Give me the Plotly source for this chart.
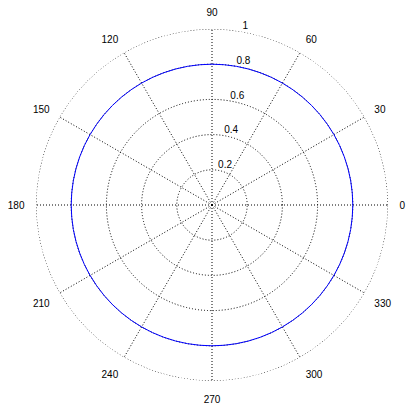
import plotly.graph_objects as go

# data
theta_deg = list(range(0, 361, 5))
r_vals = [0.8] * len(theta_deg)

radial_ticks = [0.2, 0.4, 0.6, 0.8, 1.0]
radial_labels = ["0.2", "0.4", "0.6", "0.8", "1"]
angular_ticks = list(range(0, 360, 30))
outer_ring = [1.0] * len(theta_deg)

FONT = "Liberation Sans"
DOTS = "1px,2px"

fig = go.Figure()

# outer dotted ring (plotly skips the grid circle at the edge of the range)
fig.add_trace(go.Scatterpolar(
    r=outer_ring,
    theta=theta_deg,
    mode="lines",
    line=dict(color="black", width=1, dash=DOTS),
    hoverinfo="skip",
    cliponaxis=False,
    showlegend=False
))

fig.add_trace(go.Scatterpolar(
    r=r_vals,
    theta=theta_deg,
    mode="lines",
    line=dict(color="#0000ff", width=1),
    hoverinfo="skip",
    showlegend=False
))

# radial labels next to the 80 degree spoke, like matlab
fig.add_trace(go.Scatterpolar(
    r=radial_ticks,
    theta=[80] * len(radial_ticks),
    mode="text",
    text=radial_labels,
    textposition="top right",
    textfont=dict(family=FONT, size=10, color="black"),
    cliponaxis=False,
    hoverinfo="skip",
    showlegend=False
))

# page body has an 8px margin, so the figure is drawn a bit smaller
fig.update_layout(
    width=400,
    height=397,
    margin=dict(l=28, r=20, t=21, b=24),
    paper_bgcolor="white",
    plot_bgcolor="white",
    font=dict(family=FONT, size=10, color="black"),
    polar=dict(
        bgcolor="white",
        radialaxis=dict(
            range=[0, 1],
            tickvals=radial_ticks,
            showticklabels=False,
            ticks="",
            showline=False,
            gridcolor="black",
            griddash=DOTS,
            gridwidth=1
        ),
        angularaxis=dict(
            tickvals=angular_ticks,
            ticktext=[str(a) for a in angular_ticks],
            direction="counterclockwise",
            rotation=0,
            showline=False,
            ticks="outside",
            ticklen=9,
            tickcolor="rgba(0,0,0,0)",
            gridcolor="black",
            griddash=DOTS,
            gridwidth=1
        )
    )
)

fig.write_html("out.html")
